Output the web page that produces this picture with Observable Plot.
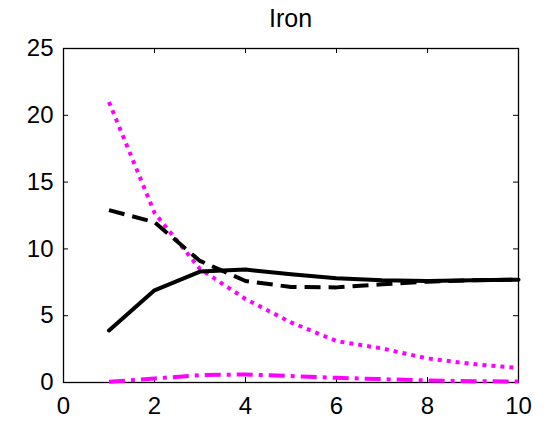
<!DOCTYPE html>
<html><head><meta charset="utf-8">
<script src="https://cdn.jsdelivr.net/npm/d3@7"></script>
<script src="https://cdn.jsdelivr.net/npm/@observablehq/plot@0.6"></script>
<style>body{margin:0;background:#fff;} #wrap{position:relative;width:550px;height:421px;}
#title{position:absolute;left:63px;width:455px;top:6px;line-height:25px;text-align:center;font-family:"Liberation Sans",Arial,sans-serif;font-size:25px;color:#000;}
svg{font-family:"Liberation Sans",Arial,sans-serif;}</style>
</head><body><div id="wrap"><div id="title"></div><div id="chart"></div></div>
<script>
const steps = [1,2,3,4,5,6,7,8,9,10];
const solidBlack = [3.9,6.9,8.3,8.45,8.1,7.8,7.65,7.6,7.65,7.7];
const dashedBlack = [12.9,12.0,9.1,7.6,7.15,7.12,7.35,7.55,7.65,7.7];
const dottedMagenta = [21.0,12.7,8.5,6.25,4.5,3.1,2.55,1.8,1.38,1.08];
const dashDotMagenta = [0.05,0.3,0.55,0.6,0.48,0.35,0.25,0.15,0.1,0.07];
const xTicks = [0,2,4,6,8,10];
const yTicks = [0,5,10,15,20,25];
const title = "Iron";

const W = 550, H = 421, mT = 48, mB = 39, mL = 63, mR = 32;
const innerH = H - mT - mB, innerW = W - mL - mR;
const toRows = (ys) => steps.map((x, i) => ({x, y: ys[i]}));

document.getElementById("title").textContent = title;

const chart = Plot.plot({
  width: W, height: H,
  marginTop: mT, marginBottom: mB, marginLeft: mL, marginRight: mR,
  style: {fontSize: "24px", fontFamily: "Liberation Sans, Arial, sans-serif", background: "#fff", color: "#000"},
  x: {domain: [0, 10], ticks: xTicks},
  y: {domain: [0, 25], ticks: yTicks},
  marks: [
    Plot.frame({stroke: "#000", strokeWidth: 1.3}),
    Plot.axisX(xTicks, {tickSize: 0, tickPadding: 14, fontSize: 24, label: null}),
    Plot.axisY(yTicks, {tickSize: 0, tickPadding: 10, fontSize: 24, label: null}),
    Plot.tickX(xTicks, {x: d => d, insetTop: innerH - 5, stroke: "#000"}),
    Plot.tickX(xTicks, {x: d => d, insetBottom: innerH - 5, stroke: "#000"}),
    Plot.tickY(yTicks, {y: d => d, insetRight: innerW - 5, stroke: "#000"}),
    Plot.tickY(yTicks, {y: d => d, insetLeft: innerW - 5, stroke: "#000"}),
    Plot.line(toRows(dashDotMagenta), {x: "x", y: "y", stroke: "#ff00ff", strokeWidth: 4, strokeDasharray: "16 6 4 6", strokeLinecap: "butt"}),
    Plot.line(toRows(dottedMagenta), {x: "x", y: "y", stroke: "#ff00ff", strokeWidth: 4, strokeDasharray: "4 5", strokeLinecap: "butt"}),
    Plot.line(toRows(dashedBlack), {x: "x", y: "y", stroke: "#000", strokeWidth: 4, strokeDasharray: "16 8", strokeLinecap: "butt"}),
    Plot.line(toRows(solidBlack), {x: "x", y: "y", stroke: "#000", strokeWidth: 4})
  ]
});
document.getElementById("chart").appendChild(chart);
</script></body></html>
